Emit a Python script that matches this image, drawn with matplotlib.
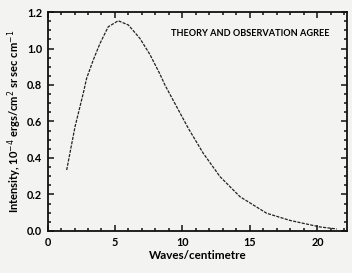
import matplotlib.pyplot as plt
from matplotlib.ticker import MultipleLocator

# values
waves = [1.42, 2.04, 2.65, 2.90, 3.39, 3.89, 4.50, 5.24, 5.99, 6.85, 7.59,
         8.33, 8.70, 9.57, 10.43, 11.54, 12.78, 14.26, 16.24, 17.96, 20.19,
         21.44]
intensity = [0.334, 0.572, 0.755, 0.837, 0.937, 1.028, 1.119, 1.152, 1.129,
             1.055, 0.967, 0.860, 0.800, 0.681, 0.563, 0.426, 0.298, 0.188,
             0.097, 0.058, 0.022, 0.011]
x_ticks = [0, 5, 10, 15, 20]
y_ticks = [0.0, 0.2, 0.4, 0.6, 0.8, 1.0, 1.2]

plt.rcParams["font.family"] = ["Lato", "DejaVu Sans"]
bg = "#f3f3f1"

fig = plt.figure(figsize=(3.52, 2.73), dpi=100, facecolor=bg)
ax = fig.add_axes([0.135, 0.154, 0.851, 0.802], facecolor=bg)

ax.plot(waves, intensity, color="#222222", lw=0.9, linestyle=(0, (2.5, 1)))

ax.set_xlim(0, 22.2)
ax.set_ylim(0, 1.2)
ax.set_xticks(x_ticks)
ax.set_yticks(y_ticks)
ax.set_yticklabels([f"{v:.1f}" for v in y_ticks])
ax.xaxis.set_minor_locator(MultipleLocator(1))
ax.yaxis.set_minor_locator(MultipleLocator(0.05))
ax.tick_params(which="both", direction="in", top=True, right=True,
               width=1.1, color="#111111", labelsize=7.8, pad=4)
ax.tick_params(which="major", length=4.5)
ax.tick_params(which="minor", length=2.5)
for s in ax.spines.values():
    s.set_linewidth(1.3)
    s.set_color("#111111")
for lab in ax.get_xticklabels() + ax.get_yticklabels():
    lab.set_fontweight("bold")

ax.set_xlabel("Waves/centimetre", fontsize=8.4, fontweight="bold", labelpad=2)
ax.set_ylabel("Intensity, 10$^{-4}$ ergs/cm$^2$ sr sec cm$^{-1}$",
              fontsize=8, fontweight="bold", labelpad=2)

ax.text(0.943, 0.90, "THEORY AND OBSERVATION AGREE", transform=ax.transAxes,
        ha="right", va="center", fontsize=6.6, fontweight="bold")

fig.savefig("out.png", dpi=100, facecolor=bg)
